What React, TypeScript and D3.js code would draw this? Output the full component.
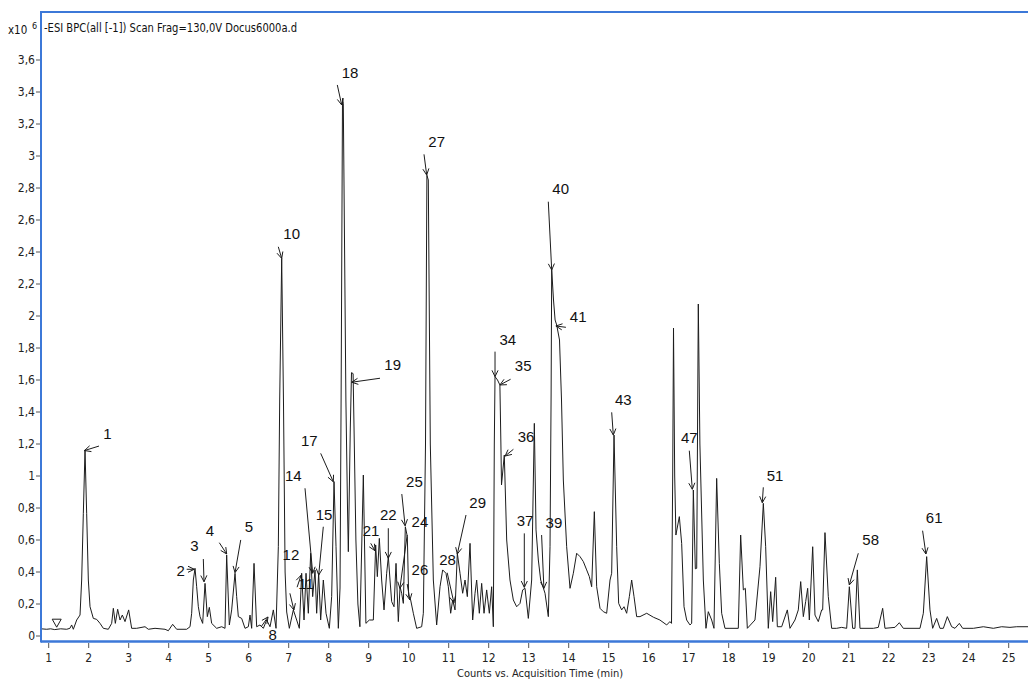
import React from 'react';
import * as d3 from 'd3';

// retention time (min) of each trace point
const times = [
  0.81, 0.95, 1.05, 1.15, 1.3, 1.45, 1.53, 1.574, 1.616, 1.7, 1.783, 1.824, 1.866, 1.908, 1.949, 1.991,
  2.033, 2.116, 2.199, 2.283, 2.366, 2.491, 2.574, 2.616, 2.666, 2.724, 2.783, 2.841, 2.908, 2.999,
  3.074, 3.199, 3.408, 3.491, 3.658, 3.908, 3.991, 4.099, 4.199, 4.449, 4.533, 4.574, 4.616, 4.658,
  4.699, 4.741, 4.783, 4.849, 4.908, 4.966, 5.016, 5.074, 5.199, 5.324, 5.408, 5.449, 5.516, 5.574,
  5.658, 5.699, 5.741, 5.824, 5.908, 5.991, 6.033, 6.074, 6.133, 6.199, 6.283, 6.366, 6.449, 6.533,
  6.616, 6.683, 6.741, 6.775, 6.825, 6.87, 6.91, 6.95, 7.016, 7.116, 7.199, 7.266, 7.324, 7.383,
  7.433, 7.491, 7.549, 7.599, 7.658, 7.699, 7.749, 7.799, 7.866, 7.933, 8.016, 8.074, 8.133, 8.183,
  8.241, 8.283, 8.31, 8.345, 8.365, 8.43, 8.47, 8.491, 8.54, 8.57, 8.61, 8.64, 8.68, 8.73, 8.78,
  8.866, 8.93, 9.016, 9.116, 9.174, 9.216, 9.266, 9.324, 9.383, 9.449, 9.491, 9.533, 9.574, 9.633,
  9.683, 9.741, 9.783, 9.824, 9.866, 9.916, 9.966, 9.999, 10.049, 10.116, 10.199, 10.324, 10.366,
  10.42, 10.455, 10.49, 10.54, 10.616, 10.699, 10.783, 10.849, 10.932, 10.991, 11.049, 11.099,
  11.158, 11.216, 11.283, 11.349, 11.408, 11.466, 11.533, 11.599, 11.658, 11.699, 11.766, 11.824,
  11.883, 11.949, 12.016, 12.074, 12.116, 12.14, 12.158, 12.22, 12.28, 12.305, 12.32, 12.39, 12.45,
  12.532, 12.616, 12.699, 12.783, 12.849, 12.908, 12.991, 13.074, 13.141, 13.183, 13.241, 13.299,
  13.366, 13.408, 13.491, 13.533, 13.56, 13.575, 13.62, 13.66, 13.7, 13.77, 13.82, 13.866, 13.949,
  14.033, 14.116, 14.199, 14.283, 14.366, 14.449, 14.516, 14.574, 14.641, 14.699, 14.783, 14.866,
  14.949, 15.033, 15.074, 15.133, 15.199, 15.249, 15.324, 15.383, 15.449, 15.516, 15.574, 15.633,
  15.699, 15.782, 15.95, 16.12, 16.28, 16.45, 16.53, 16.57, 16.6, 16.62, 16.65, 16.68, 16.766,
  16.824, 16.883, 16.949, 17.032, 17.074, 17.116, 17.166, 17.2, 17.24, 17.28, 17.366, 17.432, 17.49,
  17.574, 17.632, 17.699, 17.766, 17.824, 17.907, 18.032, 18.24, 18.299, 18.366, 18.416, 18.466,
  18.657, 18.782, 18.866, 18.924, 18.99, 19.049, 19.099, 19.174, 19.216, 19.324, 19.466, 19.532,
  19.657, 19.74, 19.8, 19.866, 19.924, 19.974, 20.016, 20.1, 20.157, 20.24, 20.324, 20.349, 20.407,
  20.49, 20.574, 20.699, 20.824, 20.949, 21.016, 21.099, 21.157, 21.216, 21.282, 21.616, 21.74,
  21.849, 21.907, 22.157, 22.266, 22.366, 22.782, 22.866, 22.949, 23.032, 23.099, 23.199, 23.282,
  23.366, 23.466, 23.574, 23.657, 23.766, 23.849, 24.116, 24.366, 24.616, 24.824, 25.032, 25.2, 25.5,
];

// base peak counts (x10^6) at each time above
const counts = [
  0.045, 0.042, 0.045, 0.04, 0.045, 0.042, 0.048, 0.069, 0.042, 0.1, 0.131, 0.35, 0.767, 1.163, 0.767, 0.35,
  0.183, 0.11, 0.104, 0.079, 0.048, 0.042, 0.079, 0.173, 0.079, 0.167, 0.1, 0.131, 0.09, 0.163,
  0.048, 0.048, 0.058, 0.042, 0.048, 0.042, 0.033, 0.073, 0.042, 0.042, 0.058, 0.142, 0.35, 0.423,
  0.308, 0.183, 0.121, 0.079, 0.329, 0.121, 0.179, 0.079, 0.048, 0.058, 0.048, 0.506, 0.069, 0.163,
  0.392, 0.246, 0.121, 0.11, 0.048, 0.058, 0.131, 0.048, 0.454, 0.058, 0.069, 0.048, 0.1, 0.058,
  0.163, 0.048, 0.558, 1.475, 2.36, 1.45, 0.4, 0.15, 0.048, 0.163, 0.1, 0.048, 0.392, 0.1,
  0.392, 0.142, 0.517, 0.246, 0.412, 0.142, 0.392, 0.1, 0.35, 0.142, 0.048, 0.246, 0.965, 0.558,
  0.048, 0.3, 1.475, 3.36, 3.33, 1.475, 0.8, 0.527, 1.3, 1.646, 1.64, 1.2, 0.6, 0.2, 0.058,
  1.006, 0.079, 0.1, 0.1, 0.569, 0.371, 0.61, 0.35, 0.163, 0.392, 0.496, 0.35, 0.215, 0.183,
  0.454, 0.09, 0.308, 0.267, 0.204, 0.683, 0.621, 0.246, 0.225, 0.142, 0.048, 0.058, 0.142,
  1.2, 2.88, 2.85, 1.2, 0.35, 0.069, 0.308, 0.413, 0.392, 0.308, 0.142, 0.225,
  0.163, 0.517, 0.392, 0.267, 0.35, 0.246, 0.579, 0.1, 0.267, 0.35, 0.142, 0.329,
  0.142, 0.288, 0.142, 0.308, 0.058, 1.2, 1.621, 1.6, 1.569, 1.2, 0.944, 1.131, 0.6,
  0.35, 0.225, 0.183, 0.204, 0.288, 0.298, 0.11, 0.35, 1.329, 0.663, 0.475, 0.35,
  0.3, 0.267, 0.121, 0.558, 1.5, 2.29, 2.1, 1.975, 1.944, 1.85, 1.475, 0.975, 0.558,
  0.298, 0.392, 0.517, 0.496, 0.465, 0.413, 0.371, 0.308, 0.777, 0.308, 0.173, 0.152,
  0.142, 0.35, 0.392, 1.256, 0.558, 0.204, 0.163, 0.183, 0.142, 0.246, 0.35, 0.246,
  0.121, 0.121, 0.142, 0.117, 0.1, 0.069, 0.09, 0.079, 1.0, 1.925, 1.0, 0.631, 0.746,
  0.579, 0.183, 0.1, 0.069, 0.079, 0.9125, 0.42, 0.423, 2.075, 1.2, 0.35, 0.048, 0.152,
  0.1, 0.048, 0.985, 0.454, 0.142, 0.048, 0.048, 0.048, 0.631, 0.288, 0.298, 0.048,
  0.1, 0.433, 0.829, 0.558, 0.048, 0.277, 0.09, 0.367, 0.058, 0.058, 0.163, 0.048,
  0.1, 0.163, 0.34, 0.121, 0.215, 0.298, 0.1, 0.558, 0.131, 0.09, 0.163, 0.163, 0.646,
  0.246, 0.048, 0.048, 0.054, 0.048, 0.308, 0.048, 0.048, 0.413, 0.048, 0.048, 0.054,
  0.173, 0.048, 0.054, 0.083, 0.048, 0.048, 0.142, 0.496, 0.163, 0.048, 0.11, 0.048,
  0.048, 0.121, 0.058, 0.048, 0.079, 0.048, 0.048, 0.058, 0.048, 0.058, 0.054, 0.058, 0.058,
];

// numbered peaks: label, time and counts of the arrow tip
const peakLabels = ['1', '2', '3', '4', '5', '8', '10', '11', '12', '14', '15', '17', '18', '19', '21', '22', '24', '25', '26', '27', '28', '29', '34', '35', '36', '37', '39', '40', '41', '43', '47', '51', '58', '61'];
const peakTimes = [1.895, 4.64, 4.883, 5.45, 5.658, 6.483, 6.825, 7.31, 7.13, 7.6, 7.75, 8.115, 8.325, 8.575, 9.158, 9.49, 9.78, 9.91, 10.03, 10.45, 11.13, 11.215, 12.158, 12.28, 12.41, 12.89, 13.38, 13.575, 13.68, 15.115, 17.09, 18.84, 21.015, 22.93];
const peakCounts = [1.159, 0.417, 0.339, 0.5125, 0.396, 0.119, 2.36, 0.38, 0.1625, 0.392, 0.381, 0.964, 3.319, 1.586, 0.533, 0.486, 0.298, 0.689, 0.225, 2.881, 0.208, 0.5125, 1.621, 1.569, 1.125, 0.304, 0.298, 2.2875, 1.9375, 1.256, 0.917, 0.833, 0.319, 0.5125];

// triangle marker on the baseline
const markerTimes = [1.2];
const markerCounts = [0.055];

const xTicks = d3.range(1, 26);
const yTicks = d3.range(0, 19).map((i) => i * 0.2);

// layout of each label: arrow tail dx, dy and label centre dx, dy (px from the tip)
const labelLayout: Record<string, number[]> = {
  '1': [14.5, -4.5, 23, -17],
  '2': [-7.6, 0, -13.6, 1.4],
  '3': [-0.7, -22.7, -9.7, -36],
  '4': [-7.4, -11.3, -16.7, -24],
  '5': [5.7, -32.7, 14, -46],
  '8': [-7, 10, 4.7, 18],
  '10': [-3.4, -11.6, 10, -25],
  '11': [-4, 12, 5, 8],
  '12': [-4, -16.7, -3, -56],
  '14': [-7.7, -85, -19.4, -97.6],
  '15': [4.6, -48.3, 5.3, -60.7],
  '17': [-12.6, -28.4, -24, -41.7],
  '18': [-4.4, -20, 8.3, -32.3],
  '19': [28.3, -4, 41, -17.3],
  '21': [-4.3, -7.4, -4, -20.7],
  '22': [0, -30, 0, -43.3],
  '24': [7.3, -53.3, 20, -66.6],
  '25': [-3.3, -31.7, 9.3, -44.7],
  '26': [-2.7, -16, 10, -30.7],
  '27': [-2.7, -20.7, 10, -33.3],
  '28': [-6.7, -30, -6.3, -43.4],
  '29': [8.7, -39, 20.4, -51.3],
  '34': [0, -25, 12.7, -37.4],
  '35': [10.7, -5.7, 23.3, -19],
  '36': [8.3, -6.7, 21, -20],
  '37': [0, -54, 0.7, -67.3],
  '39': [-2.3, -53.3, 10, -65.6],
  '40': [-3.4, -68.3, 9, -81.7],
  '41': [10, 1.3, 22.3, -10],
  '43': [-1.6, -22.7, 10, -35.7],
  '47': [-3, -38.6, -3, -51.6],
  '51': [1, -15.4, 12.7, -27.7],
  '58': [9, -31.7, 21.4, -45],
  '61': [-3.3, -23.3, 8.3, -36.3],
};

const W = 1028;
const H = 680;
const left = 41;
const top = 12;
const bottom = 641.5;
const blue = '#3c78d8';
const font = 'Tahoma, "DejaVu Sans Condensed", "Liberation Sans", Arial, sans-serif';
const labelFont = '"Liberation Sans Narrow", "Arial Narrow", "Liberation Sans", Arial, sans-serif';

const fmt = (v: number) => String(+v.toFixed(1)).replace('.', ',');

export default function App() {
  const x = d3.scaleLinear().domain([0.8075, 25.4825]).range([left, W]);
  const y = d3.scaleLinear().domain([0, 3.9]).range([636, top]);

  const pts: [number, number][] = times.map((t, i) => [t, counts[i]]);
  const line = d3
    .line<[number, number]>()
    .x((d) => x(d[0]))
    .y((d) => y(d[1]));

  const arrow = (tx: number, ty: number, sx: number, sy: number) => {
    const a = Math.atan2(ty - sy, tx - sx);
    const len = 7;
    const spread = 0.45;
    const h1 = [tx - len * Math.cos(a - spread), ty - len * Math.sin(a - spread)];
    const h2 = [tx - len * Math.cos(a + spread), ty - len * Math.sin(a + spread)];
    return `M${sx},${sy}L${tx},${ty}M${h1[0]},${h1[1]}L${tx},${ty}L${h2[0]},${h2[1]}`;
  };

  return (
    <svg
      width={W}
      height={H}
      style={{ position: 'fixed', left: 0, top: 0, background: '#fff' }}
    >
      <defs>
        <clipPath id="plot">
          <rect x={left} y={top} width={W - left} height={bottom - top} />
        </clipPath>
      </defs>

      <text
        x={44}
        y={32}
        fontFamily={font}
        fontSize={12}
        fill="#111"
        textLength={253}
        lengthAdjust="spacingAndGlyphs"
      >
        -ESI BPC(all [-1]) Scan Frag=130,0V Docus6000a.d
      </text>
      <text x={8} y={34} fontFamily={font} fontSize={11.5} fill="#111">
        x10
      </text>
      <text x={32} y={29} fontFamily={font} fontSize={9} fill="#111">
        6
      </text>

      <g clipPath="url(#plot)">
        <path d={line(pts) || ''} fill="none" stroke="#1c1c1c" strokeWidth={1} strokeLinejoin="round" />
        {markerTimes.map((t, i) => {
          const mx = x(t);
          const my = y(markerCounts[i]);
          return (
            <path
              key={i}
              d={`M${mx - 4.5},${my - 8}L${mx + 4.5},${my - 8}L${mx},${my}Z`}
              fill="#fff"
              stroke="#1c1c1c"
              strokeWidth={1}
            />
          );
        })}
      </g>

      {peakLabels.map((lab, i) => {
        const tx = x(peakTimes[i]);
        const ty = y(peakCounts[i]);
        const [adx, ady, ldx, ldy] = labelLayout[lab];
        return (
          <g key={lab}>
            <path d={arrow(tx, ty, tx + adx, ty + ady)} fill="none" stroke="#1c1c1c" strokeWidth={1} />
            <text
              x={tx + ldx}
              y={ty + ldy}
              textAnchor="middle"
              dominantBaseline="central"
              fontFamily={labelFont}
              fontSize={15}
              fill="#111"
            >
              {lab}
            </text>
          </g>
        );
      })}

      {yTicks.map((v) => (
        <g key={v} transform={`translate(0,${y(v)})`}>
          <line x1={36} x2={left} stroke="#555" />
          <text
            x={35}
            textAnchor="end"
            dominantBaseline="central"
            fontFamily={font}
            fontSize={12}
            fill="#222"
          >
            {fmt(v)}
          </text>
        </g>
      ))}

      {xTicks.map((v) => (
        <g key={v} transform={`translate(${x(v)},0)`}>
          <line y1={643} y2={648} stroke="#555" />
          <text
            y={657.5}
            textAnchor="middle"
            dominantBaseline="central"
            fontFamily={font}
            fontSize={12}
            fill="#222"
          >
            {v}
          </text>
        </g>
      ))}

      <text
        x={540}
        y={673}
        textAnchor="middle"
        dominantBaseline="central"
        fontFamily={font}
        fontSize={11}
        fill="#222"
      >
        Counts vs. Acquisition Time (min)
      </text>

      <line x1={left} x2={W} y1={top} y2={top} stroke={blue} strokeWidth={2} />
      <line x1={left} x2={left} y1={top - 1} y2={bottom + 1} stroke={blue} strokeWidth={2} />
      <line x1={left} x2={W} y1={bottom} y2={bottom} stroke={blue} strokeWidth={2.5} />
    </svg>
  );
}
